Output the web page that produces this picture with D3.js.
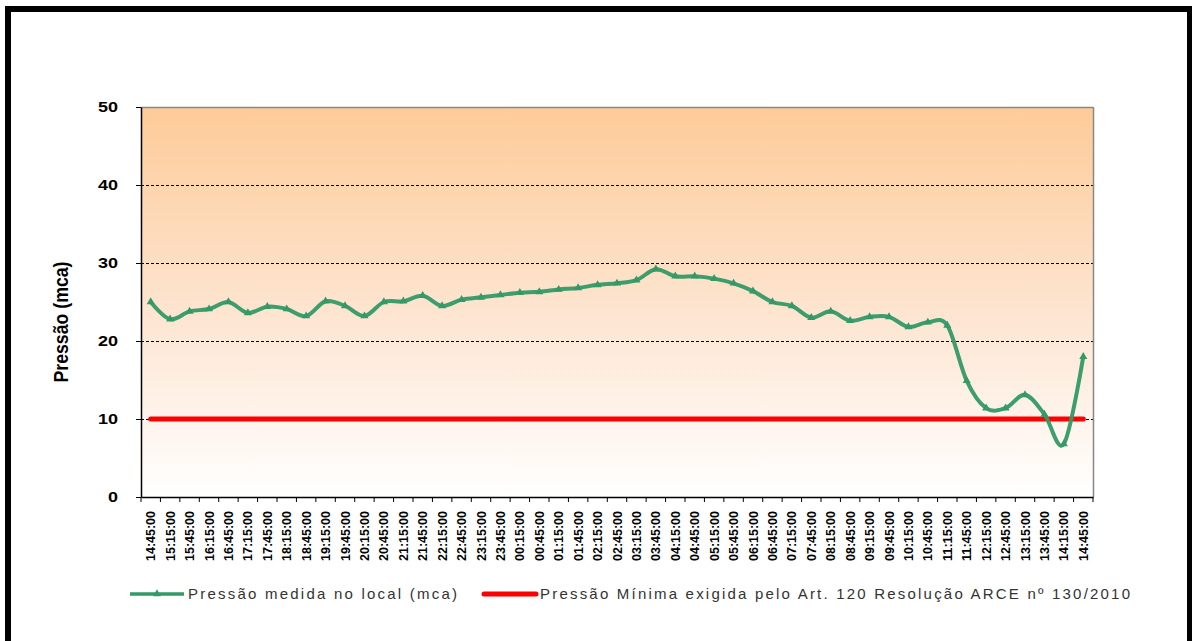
<!DOCTYPE html>
<html>
<head>
<meta charset="utf-8">
<script src="https://cdn.jsdelivr.net/npm/d3@7"></script>
<style>
html,body{margin:0;padding:0;background:#fff;}
svg{display:block;}
</style>
</head>
<body>
<svg id="chart" width="1192" height="641"></svg>
<script>
const categories = ["14:45:00","15:15:00","15:45:00","16:15:00","16:45:00","17:15:00","17:45:00","18:15:00","18:45:00","19:15:00","19:45:00","20:15:00","20:45:00","21:15:00","21:45:00","22:15:00","22:45:00","23:15:00","23:45:00","00:15:00","00:45:00","01:15:00","01:45:00","02:15:00","02:45:00","03:15:00","03:45:00","04:15:00","04:45:00","05:15:00","05:45:00","06:15:00","06:45:00","07:15:00","07:45:00","08:15:00","08:45:00","09:15:00","09:45:00","10:15:00","10:45:00","11:15:00","11:45:00","12:15:00","12:45:00","13:15:00","13:45:00","14:15:00","14:45:00"];
const pressao = [25.0,22.8,23.8,24.1,25.0,23.6,24.4,24.1,23.2,25.1,24.5,23.2,25.0,25.1,25.8,24.5,25.3,25.6,25.9,26.2,26.3,26.6,26.8,27.2,27.4,27.8,29.2,28.3,28.3,28.0,27.4,26.4,25.0,24.5,23.0,23.8,22.6,23.1,23.1,21.8,22.4,22.0,14.9,11.4,11.4,13.1,10.6,6.8,18.0];
const minima = categories.map(() => 10);
const yTicks = [0,10,20,30,40,50];
const seriesNames = ["Pressão medida no local (mca)", "Pressão Mínima exigida pelo Art. 120 Resolução ARCE nº 130/2010"];
const yTitle = "Pressão (mca)";

const svg = d3.select("#chart");
const m = {left:141, top:107, right:1093, bottom:497};
const idx = categories.map((c,i)=>i);

// frame
svg.append("rect").attr("x",5).attr("y",6).attr("width",1187).attr("height",6).attr("fill","#000");
svg.append("rect").attr("x",5).attr("y",6).attr("width",6).attr("height",640).attr("fill","#000");
svg.append("rect").attr("x",1187).attr("y",6).attr("width",5).attr("height",640).attr("fill","#000");

const defs = svg.append("defs");
const grad = defs.append("linearGradient").attr("id","bg").attr("x1",0).attr("y1",0).attr("x2",0).attr("y2",1);
grad.append("stop").attr("offset","0%").attr("stop-color","#FDCB98");
grad.append("stop").attr("offset","55%").attr("stop-color","#FDE6D3");
grad.append("stop").attr("offset","100%").attr("stop-color","#FFFFFF");

const x = d3.scaleBand().domain(idx).range([m.left, m.right]).padding(0);
const y = d3.scaleLinear().domain([0,50]).range([m.bottom, m.top]);
const cx = i => x(i) + x.bandwidth()/2;

svg.append("rect").attr("x",m.left).attr("y",m.top).attr("width",m.right-m.left).attr("height",m.bottom-m.top).attr("fill","url(#bg)");

// gridlines
svg.append("g").selectAll("line").data(yTicks.filter(t=>t>0 && t<50)).join("line")
  .attr("x1",m.left).attr("x2",m.right).attr("y1",d=>y(d)+0.5).attr("y2",d=>y(d)+0.5)
  .attr("stroke","#000").attr("stroke-width",1).attr("stroke-dasharray","3,2");

// plot border top/right
svg.append("line").attr("x1",m.left).attr("x2",m.right).attr("y1",m.top+0.5).attr("y2",m.top+0.5).attr("stroke","#888").attr("stroke-width",1.5);
svg.append("line").attr("x1",m.right+0.5).attr("x2",m.right+0.5).attr("y1",m.top).attr("y2",m.bottom).attr("stroke","#888").attr("stroke-width",1.5);

// Y axis
const yAxis = svg.append("g").attr("transform",`translate(${m.left},0)`)
  .call(d3.axisLeft(y).tickValues(yTicks).tickSize(5).tickPadding(18).tickSizeOuter(0));
yAxis.select(".domain").attr("stroke","#000").attr("stroke-width",1.5);
yAxis.selectAll(".tick line").attr("stroke","#000");
yAxis.selectAll("text").attr("font-family","Liberation Sans, Arial, sans-serif").attr("font-size",14).attr("font-weight","bold").attr("fill","#000")
  .attr("textLength",d=>String(d).length===1?10:20).attr("lengthAdjust","spacingAndGlyphs");

// X axis
const xAxis = svg.append("g").attr("transform",`translate(0,${m.bottom})`)
  .call(d3.axisBottom(x).tickSize(0).tickPadding(0).tickSizeOuter(0).tickFormat(i=>categories[i]));
xAxis.select(".domain").attr("stroke","#000").attr("stroke-width",1.5);
xAxis.selectAll(".tick text")
  .attr("font-family","Liberation Sans, Arial, sans-serif").attr("font-size",13).attr("font-weight","bold").attr("fill","#000")
  .attr("text-anchor","end").attr("dy",0).attr("dominant-baseline","central")
  .attr("transform","translate(0,14) rotate(-90)")
  .attr("textLength",50).attr("lengthAdjust","spacingAndGlyphs");
// boundary ticks
const bounds = idx.map(i=>x(i)).concat([m.right]);
svg.append("g").selectAll("line").data(bounds).join("line")
  .attr("x1",d=>d).attr("x2",d=>d).attr("y1",m.bottom).attr("y2",m.bottom+5)
  .attr("stroke","#000").attr("stroke-width",1);

// Y title
svg.append("text").attr("transform","translate(68,322) rotate(-90)")
  .attr("text-anchor","middle").attr("font-family","Liberation Sans Narrow, Liberation Sans, Arial, sans-serif")
  .attr("font-size",20).attr("font-weight","bold").attr("fill","#000")
  .attr("textLength",121).attr("lengthAdjust","spacingAndGlyphs").text(yTitle);

// Minimum line
const lineMin = d3.line().x((d,i)=>cx(i)).y(d=>y(d));
svg.append("path").datum(minima).attr("d",lineMin).attr("fill","none")
  .attr("stroke","#FF0000").attr("stroke-width",5).attr("stroke-linecap","round");

// Pressure line
const green = "#339966";
const lineP = d3.line().x((d,i)=>cx(i)).y(d=>y(d)).curve(d3.curveCatmullRom.alpha(0));
svg.append("path").datum(pressao).attr("d",lineP).attr("fill","none")
  .attr("stroke",green).attr("stroke-width",4).attr("stroke-linejoin","round").attr("stroke-opacity",0.95);
svg.append("g").selectAll("path").data(pressao).join("path")
  .attr("d",d3.symbol(d3.symbolTriangle,28))
  .attr("transform",(d,i)=>`translate(${cx(i)},${y(d)})`)
  .attr("fill",green);

// Legend
const lg = svg.append("g");
lg.append("line").attr("x1",130).attr("x2",184).attr("y1",594).attr("y2",594).attr("stroke",green).attr("stroke-width",3.5);
lg.append("path").attr("d",d3.symbol(d3.symbolTriangle,28)).attr("transform","translate(157,594)").attr("fill",green);
lg.append("text").attr("x",188).attr("y",599).attr("font-family","Liberation Sans, Arial, sans-serif").attr("font-size",15).attr("fill","#333")
  .attr("textLength",269).attr("lengthAdjust","spacing").text(seriesNames[0]);
lg.append("line").attr("x1",484).attr("x2",536).attr("y1",594).attr("y2",594).attr("stroke","#FF0000").attr("stroke-width",5).attr("stroke-linecap","round");
lg.append("text").attr("x",540).attr("y",599).attr("font-family","Liberation Sans, Arial, sans-serif").attr("font-size",15).attr("fill","#333")
  .attr("textLength",590).attr("lengthAdjust","spacing").text(seriesNames[1]);
</script>
</body>
</html>
